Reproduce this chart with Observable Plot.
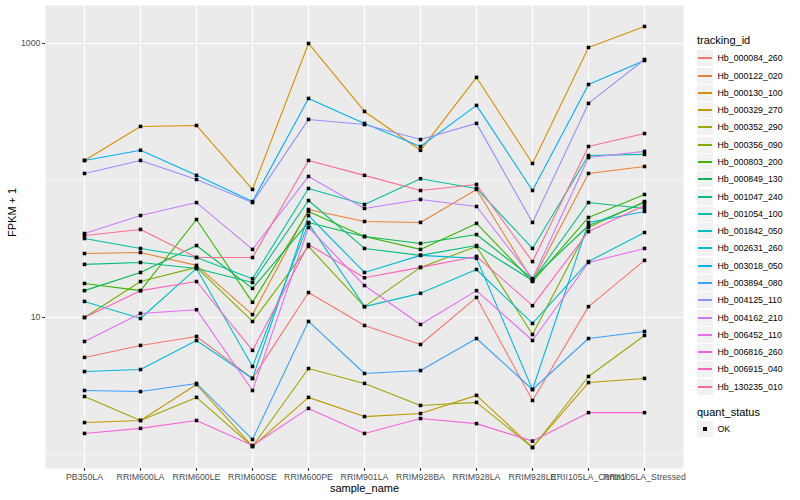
<!DOCTYPE html>
<html><head><meta charset="utf-8">
<script src="https://cdn.jsdelivr.net/npm/d3@7"></script>
<script src="https://cdn.jsdelivr.net/npm/@observablehq/plot@0.6"></script>
<style>
body{margin:0;background:#fff;font-family:"Liberation Sans",Arial,sans-serif;}
#wrap{position:relative;width:800px;height:500px;overflow:hidden;}
#wrap svg{position:absolute;left:0;top:0;}
.lg{position:absolute;font-family:"Liberation Sans",Arial,sans-serif;color:#000;white-space:nowrap;}
.lt{font-size:11px;line-height:13px;}
.lab{font-size:8.8px;line-height:11px;}
.key{position:absolute;background:#F2F2F2;}
</style></head><body><div id="wrap"></div>
<script>
const samples = ["PB350LA","RRIM600LA","RRIM600LE","RRIM600SE","RRIM600PE","RRIM901LA","RRIM928BA","RRIM928LA","RRIM928LE","RRII105LA_Control","RRII105LA_Stressed"];
const trackingIds = ["Hb_000084_260","Hb_000122_020","Hb_000130_100","Hb_000329_270","Hb_000352_290","Hb_000356_090","Hb_000803_200","Hb_000849_130","Hb_001047_240","Hb_001054_100","Hb_001842_050","Hb_002631_260","Hb_003018_050","Hb_003894_080","Hb_004125_110","Hb_004162_210","Hb_006452_110","Hb_006816_260","Hb_006915_040","Hb_130235_010"];
const colors = ["#F8766D","#EA8331","#D89000","#C09B00","#A3A500","#7CAE00","#39B600","#00BB4E","#00BF7D","#00C1A3","#00BFC4","#00BAE0","#00B0F6","#35A2FF","#9590FF","#C77CFF","#E76BF3","#FA62DB","#FF62BC","#FF6C91"];
const majorTicks = [10, 1000];
const minorTicks = [1, 100];

// FPKM + 1 per sample (order of samples)
const Hb_000084_260 = [5.11, 6.25, 7.27, 3.59, 15.2, 8.74, 6.35, 14.0, 2.48, 12.0, 26.1];
const Hb_000122_020 = [29.3, 29.8, 24.0, 10.5, 61.4, 50.2, 49.4, 86, 18.6, 112.5, 126.5];
const Hb_000130_100 = [140, 248, 252, 86, 1000, 319, 166, 565, 133, 935, 1331];
const Hb_000329_270 = [1.71, 1.77, 3.24, 1.144, 2.61, 1.89, 1.99, 2.70, 1.125, 3.35, 3.59];
const Hb_000352_290 = [2.65, 1.77, 2.61, 1.144, 4.24, 3.30, 2.28, 2.40, 1.125, 3.71, 7.39];
const Hb_000356_090 = [10, 18.3, 23.2, 9.35, 33.0, 12.0, 23.2, 33.0, 7.51, 45.4, 70.2];
const Hb_000803_200 = [17.7, 15.7, 51.9, 12.9, 59.4, 39.0, 31.4, 48.6, 18.3, 53.7, 79];
const Hb_000849_130 = [15.7, 21.3, 33.5, 16.3, 49.4, 39.0, 34.7, 40.3, 19.2, 46.9, 69.0];
const Hb_001047_240 = [24.4, 25.2, 22.8, 18.0, 71.4, 31.9, 28.4, 33.5, 18.6, 69.0, 62.5];
const Hb_001054_100 = [37.7, 31.9, 27.4, 19.2, 87.4, 66.8, 103, 87.4, 31.9, 152, 155];
const Hb_001842_050 = [13.1, 9.83, 22.8, 4.39, 48.6, 12.0, 15.0, 22.4, 9.04, 25.6, 41.7];
const Hb_002631_260 = [4.03, 4.17, 6.79, 3.59, 55.5, 21.3, 28.4, 27.0, 2.98, 49.4, 59.4];
const Hb_003018_050 = [140, 166, 109, 70.2, 397, 261, 177, 353, 84.5, 502, 751];
const Hb_003894_080 = [2.93, 2.88, 3.30, 1.287, 9.35, 3.90, 4.10, 7.02, 2.98, 7.02, 7.9];
const Hb_004125_110 = [112.5, 140, 101.7, 69.0, 279, 256, 199, 261, 49.4, 365, 764];
const Hb_004162_210 = [41.0, 55.5, 69.0, 31.4, 107, 62.5, 72.7, 64.6, 19.2, 147, 163];
const Hb_006452_110 = [6.68, 10.7, 11.4, 2.93, 45.4, 17.1, 8.89, 15.7, 6.79, 25.2, 31.9];
const Hb_006816_260 = [1.424, 1.55, 1.77, 1.163, 2.17, 1.424, 1.83, 1.68, 1.252, 2.02, 2.02];
const Hb_006915_040 = [10, 15.7, 18.3, 5.75, 34.1, 19.5, 23.2, 27.9, 12.2, 42.4, 65.7];
const Hb_130235_010 = [39.7, 43.9, 27.4, 27.4, 140, 109, 84.5, 93.5, 25.6, 177, 220];

const seriesValues = [Hb_000084_260, Hb_000122_020, Hb_000130_100, Hb_000329_270, Hb_000352_290, Hb_000356_090, Hb_000803_200, Hb_000849_130, Hb_001047_240, Hb_001054_100, Hb_001842_050, Hb_002631_260, Hb_003018_050, Hb_003894_080, Hb_004125_110, Hb_004162_210, Hb_006452_110, Hb_006816_260, Hb_006915_040, Hb_130235_010];

const data = trackingIds.flatMap((id, k) => seriesValues[k].map((v, i) => ({id, sample: samples[i], value: v, status: "OK"})));

const chart = Plot.plot({
  width: 800, height: 500,
  marginLeft: 45, marginRight: 117, marginTop: 5, marginBottom: 32,
  style: {fontFamily: "Liberation Sans, Arial, sans-serif", fontSize: "8.8px", color: "#4D4D4D", background: "white", overflow: "visible"},
  x: {type: "point", domain: samples, padding: 0.6, axis: null},
  y: {type: "log", domain: [0.79, 1893], axis: null},
  color: {domain: trackingIds, range: colors},
  marks: [
    Plot.frame({fill: "#EBEBEB", stroke: "none"}),
    Plot.ruleY(minorTicks, {stroke: "white", strokeWidth: 0.55}),
    Plot.ruleY(majorTicks, {stroke: "white", strokeWidth: 1.1}),
    Plot.gridX({stroke: "white", strokeOpacity: 1, strokeWidth: 1.1}),
    Plot.line(data, {x: "sample", y: "value", z: "id", stroke: "id", strokeWidth: 1.1}),
    Plot.dot(data, {x: "sample", y: "value", symbol: "square", r: 2, fill: "black", stroke: "none"}),
    Plot.axisX({tickSize: 3, tickPadding: 2, label: null, stroke: "#333333"}),
    Plot.axisY({ticks: majorTicks, tickFormat: d => String(d), tickSize: 3, tickPadding: 2, label: null, stroke: "#333333"}),
    Plot.text(["FPKM + 1"], {frameAnchor: "left", dx: -33, rotate: -90, fontSize: 11, fill: "black"}),
    Plot.text(["sample_name"], {frameAnchor: "bottom", dy: 23, fontSize: 11, fill: "black"})
  ]
});
const wrap = document.getElementById("wrap");
wrap.appendChild(chart);

// legend
function add(html, style, cls) {
  const d = document.createElement("div");
  d.className = "lg " + (cls || "");
  Object.assign(d.style, style);
  d.innerHTML = html;
  wrap.appendChild(d);
  return d;
}
add("tracking_id", {left: "697px", top: "34px"}, "lt");
const rowH = 17.28, firstCenter = 58.3;
trackingIds.forEach((id, i) => {
  const cy = firstCenter + i * rowH;
  const top = Math.round(cy - 8);
  const key = document.createElement("div");
  key.className = "key";
  Object.assign(key.style, {left: "697px", top: top + "px", width: "16px", height: "16px"});
  const ln = document.createElement("div");
  Object.assign(ln.style, {position: "absolute", left: "1px", right: "1px", top: "7px", height: "2px", background: colors[i]});
  key.appendChild(ln);
  wrap.appendChild(key);
  add(id, {left: "717.5px", top: (top + 2.5) + "px"}, "lab");
});
add("quant_status", {left: "697px", top: "405.5px"}, "lt");
{
  const top = Math.round(428.7 - 8);
  const key = document.createElement("div");
  key.className = "key";
  Object.assign(key.style, {left: "697px", top: top + "px", width: "16px", height: "16px"});
  const sq = document.createElement("div");
  Object.assign(sq.style, {position: "absolute", left: "6px", top: "6px", width: "4px", height: "4px", background: "#000"});
  key.appendChild(sq);
  wrap.appendChild(key);
  add("OK", {left: "717.5px", top: (top + 2.5) + "px"}, "lab");
}
</script></body></html>
